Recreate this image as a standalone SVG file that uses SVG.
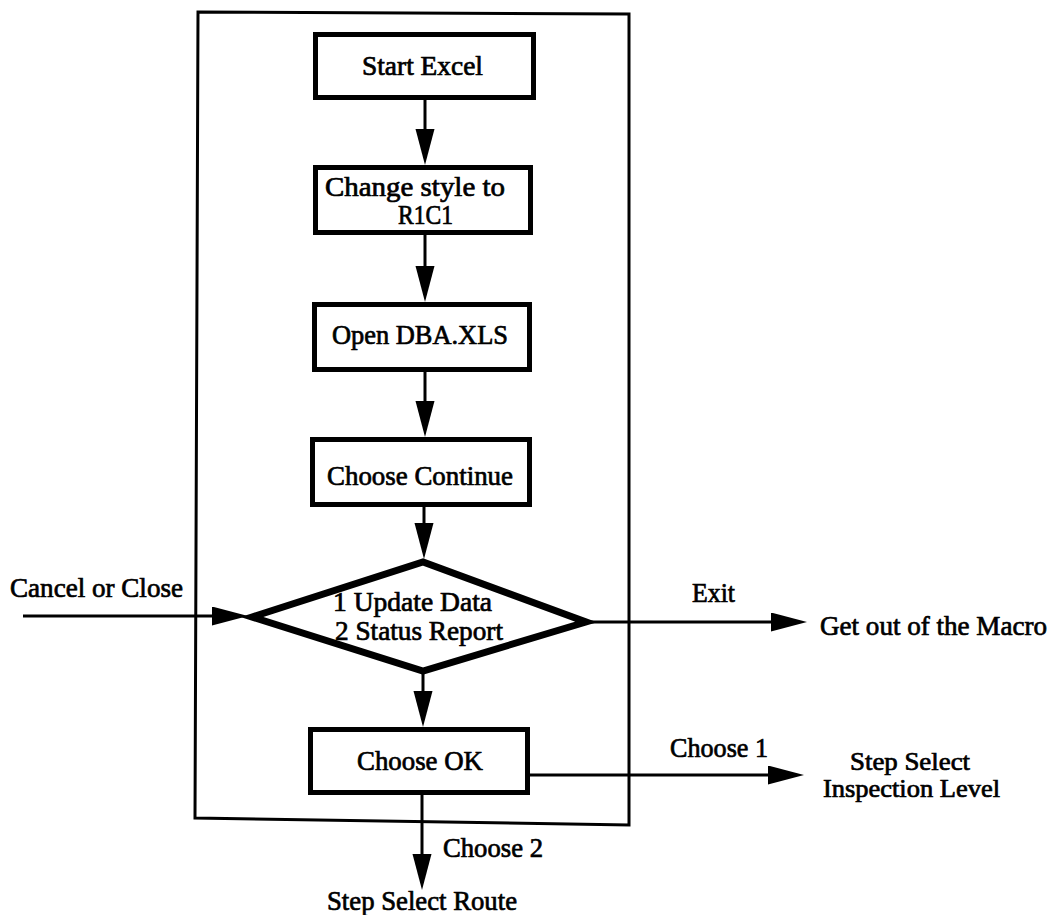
<svg xmlns="http://www.w3.org/2000/svg" width="1053" height="915" viewBox="0 0 1053 915">
  <style>
    .box { fill: #fff; stroke: #000; stroke-width: 5; }
    .decision { fill: #fff; stroke: #000; stroke-width: 7; stroke-linejoin: miter; stroke-miterlimit: 4; }
    .frame { fill: none; stroke: #000; stroke-width: 3; }
    .edge { fill: none; stroke: #000; stroke-width: 3; marker-end: url(#head); }
    text { font-family: "Liberation Serif", "Times New Roman", serif; font-size: 27px; fill: #000; stroke: #000; stroke-width: 0.7; }
    .mid { text-anchor: middle; }
    .tight { font-size: 25px; }
  </style>
  <defs>
    <!-- solid triangular arrowhead; the tip sits 12px beyond the line end -->
    <marker id="head" markerUnits="userSpaceOnUse" markerWidth="40" markerHeight="20" refX="24" refY="9.5" orient="auto">
      <path d="M0,0 L36,9.5 L0,19 Z" fill="#000"/>
    </marker>
  </defs>
  <rect width="1053" height="915" fill="#fff"/>

  <!-- macro boundary -->
  <g id="macro-frame">
    <path class="frame" d="M198,12 L629,14 L629,825 L195,818 Z"/>
  </g>

  <!-- connectors -->
  <g id="connectors">
    <line class="edge" x1="425" y1="100" x2="425" y2="153"/>
    <line class="edge" x1="425" y1="235" x2="425" y2="290"/>
    <line class="edge" x1="425" y1="372" x2="425" y2="425"/>
    <line class="edge" x1="424" y1="507" x2="424" y2="547"/>
    <line class="edge" x1="423" y1="673" x2="423" y2="715"/>
    <line class="edge" x1="422" y1="795" x2="422" y2="878"/>
    <line class="edge" x1="23" y1="616" x2="236" y2="616"/>
    <line class="edge" x1="588" y1="622" x2="795" y2="622"/>
    <line class="edge" x1="530" y1="775" x2="792" y2="775"/>
  </g>

  <g id="start-excel">
    <rect class="box" x="315.5" y="34.5" width="218" height="63"/>
    <text class="mid" x="422.5" y="75" textLength="121" lengthAdjust="spacingAndGlyphs">Start Excel</text>
  </g>

  <g id="change-style">
    <rect class="box" x="315.5" y="167.5" width="215" height="65"/>
    <text class="mid" x="415" y="196" textLength="180" lengthAdjust="spacingAndGlyphs">Change style to</text>
    <text class="mid" x="425.5" y="224" textLength="55" lengthAdjust="spacingAndGlyphs">R1C1</text>
  </g>

  <g id="open-dba">
    <rect class="box" x="314.5" y="304.5" width="215" height="65"/>
    <text class="mid" x="420" y="344" textLength="176" lengthAdjust="spacingAndGlyphs">Open DBA.XLS</text>
  </g>

  <g id="choose-continue">
    <rect class="box" x="312.5" y="439.5" width="217" height="65"/>
    <text class="mid" x="420" y="485" textLength="186" lengthAdjust="spacingAndGlyphs">Choose Continue</text>
  </g>

  <g id="menu-choice">
    <polygon class="decision" points="252,617 423,562 586,622 423,671"/>
    <text x="333" y="611" textLength="159" lengthAdjust="spacingAndGlyphs">1 Update Data</text>
    <text x="335" y="640" textLength="168" lengthAdjust="spacingAndGlyphs">2 Status Report</text>
  </g>

  <g id="choose-ok">
    <rect class="box" x="310.5" y="729.5" width="217" height="63"/>
    <text class="mid" x="420" y="770" textLength="126" lengthAdjust="spacingAndGlyphs">Choose OK</text>
  </g>

  <g id="cancel-label">
    <text x="10" y="597" textLength="173" lengthAdjust="spacingAndGlyphs">Cancel or Close</text>
  </g>

  <g id="exit-target">
    <text x="692" y="602" textLength="43" lengthAdjust="spacingAndGlyphs">Exit</text>
    <text x="820" y="635" textLength="227" lengthAdjust="spacingAndGlyphs">Get out of the Macro</text>
  </g>

  <g id="inspection-target">
    <text x="670" y="757" textLength="98" lengthAdjust="spacingAndGlyphs">Choose 1</text>
    <text class="tight" x="850" y="770" textLength="120" lengthAdjust="spacingAndGlyphs">Step Select</text>
    <text class="tight" x="823" y="797" textLength="177" lengthAdjust="spacingAndGlyphs">Inspection Level</text>
  </g>

  <g id="route-target">
    <text x="443" y="857" textLength="100" lengthAdjust="spacingAndGlyphs">Choose 2</text>
    <text x="327" y="910" textLength="190" lengthAdjust="spacingAndGlyphs">Step Select Route</text>
  </g>
</svg>
